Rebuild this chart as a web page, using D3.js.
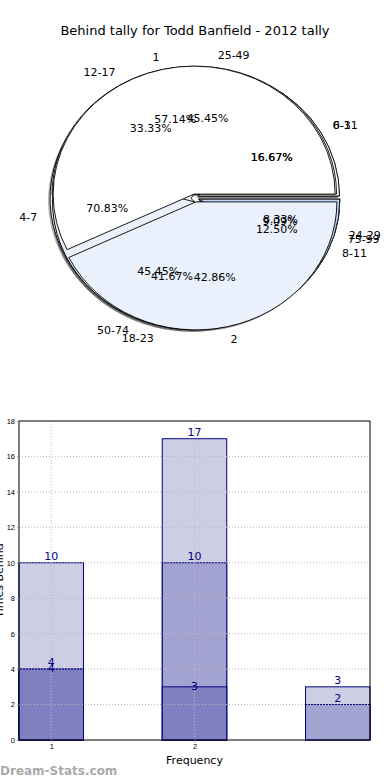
<!DOCTYPE html>
<html>
<head>
<meta charset="utf-8">
<script src="https://cdn.jsdelivr.net/npm/d3@7"></script>
<style>
  body { margin: 0; background: #fff; }
  svg { display: block; font-family: "DejaVu Sans", sans-serif; }
</style>
</head>
<body>
<div id="chart"></div>
<script>
// Pie data (drawn bottom to top: D, C, B, A)
const pieLabelsD = ["0-3", "4-7", "8-11"];
const pieCountsD = [4, 17, 3];
const pieLabelsC = ["6-11", "12-17", "18-23", "24-29"];
const pieCountsC = [2, 4, 5, 1];
const pieLabelsB = ["25-49", "50-74", "75-99"];
const pieCountsB = [5, 5, 1];
const pieLabelsA = ["1", "2"];
const pieCountsA = [4, 3];

// Bar data: three overlapping series per frequency
const freqs = [1, 2, 3];
const darkSeries = [4, 3, null];
const midSeries = [4, 10, 2];
const lightSeries = [10, 17, 3];
const yTicks = [0, 2, 4, 6, 8, 10, 12, 14, 16, 18];

const W = 390, H = 780;
const svg = d3.select("#chart").append("svg")
    .attr("width", W).attr("height", H);

svg.append("text")
    .attr("x", W / 2).attr("y", 35)
    .attr("text-anchor", "middle")
    .attr("font-size", 13)
    .text("Behind tally for Todd Banfield - 2012 tally");

// ---- pies ----
const cx = 195, cy = 198, rx = 141, ry = 128;
const explode = 4;
const palette = ["#ffffff", "#eaf0fc", "#c3d5f5", "#a8c2ee"];

const pies = [
  {labels: pieLabelsD, counts: pieCountsD},
  {labels: pieLabelsC, counts: pieCountsC},
  {labels: pieLabelsB, counts: pieCountsB},
  {labels: pieLabelsA, counts: pieCountsA}
];

// matplotlib style: start at east, counter-clockwise
const pieGen = d3.pie().sort(null)
    .startAngle(Math.PI / 2)
    .endAngle(Math.PI / 2 - 2 * Math.PI);
const arc = d3.arc().innerRadius(0).outerRadius(1);

const pieG = svg.append("g");
const shadowG = pieG.append("g");
const wedgeG = pieG.append("g");
const textG = pieG.append("g").attr("font-size", 11);

pies.forEach(p => {
  const arcs = pieGen(p.counts);
  const total = d3.sum(p.counts);
  arcs.forEach((a, i) => {
    const mid = (a.startAngle + a.endAngle) / 2;
    const ux = Math.sin(mid), uy = -Math.cos(mid);
    const ox = cx + ux * explode, oy = cy + uy * explode;

    shadowG.append("path")
        .attr("d", arc(a))
        .attr("transform", `translate(${ox - 2},${oy + 2}) scale(${rx},${ry})`)
        .attr("fill", "#444")
        .attr("fill-opacity", 0.4);

    wedgeG.append("path")
        .attr("d", arc(a))
        .attr("transform", `translate(${ox},${oy}) scale(${rx},${ry})`)
        .attr("fill", palette[i % palette.length])
        .attr("stroke", "#000")
        .attr("stroke-width", 0.9)
        .attr("vector-effect", "non-scaling-stroke");

    // outer label
    const lx = ox + 1.1 * rx * ux, ly = oy + 1.1 * ry * uy;
    textG.append("text")
        .attr("x", lx).attr("y", ly)
        .attr("dy", "0.35em")
        .attr("text-anchor", ux >= 0 ? "start" : "end")
        .text(p.labels[i]);

    // percentage
    const px = ox + 0.6 * rx * ux, py = oy + 0.6 * ry * uy;
    textG.append("text")
        .attr("x", px).attr("y", py)
        .attr("dy", "0.35em")
        .attr("text-anchor", "middle")
        .text((p.counts[i] / total * 100).toFixed(2) + "%");
  });
});

// ---- bars ----
const m = {left: 19, right: 370, top: 421, bottom: 740};
const x = d3.scaleLinear().domain([0.775, 3.225]).range([m.left, m.right]);
const y = d3.scaleLinear().domain([0, 18]).range([m.bottom, m.top]);
const bw = 0.45;

const barG = svg.append("g");
const series = [
  {vals: lightSeries, fill: "#cdcde4", dy: -3},
  {vals: midSeries, fill: "#a3a3d1", dy: -3},
  {vals: darkSeries, fill: "#8080c0", dy: 3}
];

series.forEach(s => {
  barG.selectAll(null)
      .data(freqs.map((f, i) => ({f: f, v: s.vals[i]})).filter(d => d.v != null))
      .join("rect")
      .attr("x", d => x(d.f - bw / 2))
      .attr("width", d => x(d.f + bw / 2) - x(d.f - bw / 2))
      .attr("y", d => y(d.v))
      .attr("height", d => y(0) - y(d.v))
      .attr("fill", s.fill)
      .attr("stroke", "#000080")
      .attr("stroke-width", 1);
});

// grid on top of bars
const gridG = svg.append("g")
    .attr("stroke", "#bbb")
    .attr("stroke-dasharray", "1,2");
yTicks.slice(1, -1).forEach(t => {
  gridG.append("line")
      .attr("x1", m.left).attr("x2", m.right)
      .attr("y1", y(t)).attr("y2", y(t));
});
[1, 2].forEach(t => {
  gridG.append("line")
      .attr("x1", x(t)).attr("x2", x(t))
      .attr("y1", m.top).attr("y2", m.bottom);
});

// value labels
const labelG = svg.append("g")
    .attr("font-size", 11)
    .attr("fill", "#000080")
    .attr("text-anchor", "middle");
series.forEach(s => {
  freqs.forEach((f, i) => {
    if (s.vals[i] == null) return;
    labelG.append("text")
        .attr("x", x(f)).attr("y", y(s.vals[i]) + s.dy)
        .text(s.vals[i]);
  });
});

// frame
svg.append("rect")
    .attr("x", m.left).attr("y", m.top)
    .attr("width", m.right - m.left).attr("height", m.bottom - m.top)
    .attr("fill", "none").attr("stroke", "#000").attr("stroke-width", 1);

const yAxis = svg.append("g")
    .attr("transform", `translate(${m.left},0)`)
    .call(d3.axisLeft(y).tickValues(yTicks).tickSize(2).tickPadding(2));
const xAxis = svg.append("g")
    .attr("transform", `translate(0,${m.bottom})`)
    .call(d3.axisBottom(x).tickValues([1, 2]).tickFormat(d3.format("d")).tickSize(2).tickPadding(2));
[yAxis, xAxis].forEach(a => {
  a.select(".domain").remove();
  a.selectAll("text").attr("font-size", 7.5).attr("fill", "#000");
  a.selectAll("line").attr("stroke", "#888");
});

svg.append("text")
    .attr("x", x(2)).attr("y", 764)
    .attr("text-anchor", "middle")
    .attr("font-size", 11)
    .text("Frequency");

svg.append("text")
    .attr("transform", `translate(3,${(m.top + m.bottom) / 2}) rotate(-90)`)
    .attr("text-anchor", "middle")
    .attr("font-size", 11)
    .text("Times Behind");

svg.append("text")
    .attr("x", 0).attr("y", 775)
    .attr("font-size", 12)
    .attr("font-weight", "bold")
    .attr("fill", "#aaa")
    .text("Dream-Stats.com");
</script>
</body>
</html>
